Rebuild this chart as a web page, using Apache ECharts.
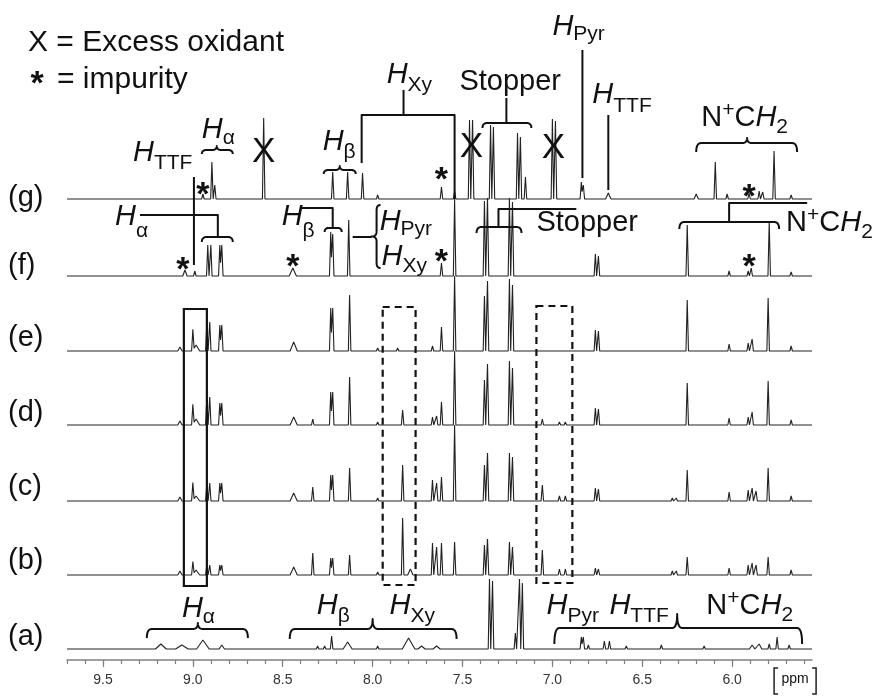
<!DOCTYPE html>
<html><head><meta charset="utf-8">
<script src="https://cdn.jsdelivr.net/npm/echarts@6/dist/echarts.min.js"></script>
<style>html,body{margin:0;padding:0;background:#fff}#c{width:880px;height:696px}</style>
</head><body><div id="c"></div>
<script>
// ---------- data (ppm, intensity[, half-width ppm]) ----------
const tickLabels = [9.5, 9.0, 8.5, 8.0, 7.5, 7.0, 6.5, 6.0];
const traceLabels = ['(a)', '(b)', '(c)', '(d)', '(e)', '(f)', '(g)'];
const peaksA = [[9.178,5,0.03],[9.061,4,0.035],[8.944,9,0.035],[8.839,4,0.015],[8.306,3],[8.267,3],[8.228,13],[8.139,7,0.025],[7.972,3],[7.80,11,0.035],[7.728,3,0.02],[7.644,3,0.02],[7.35,70],[7.333,68],[7.206,16],[7.183,70],[7.167,66],[6.839,12],[6.828,12],[6.80,4],[6.711,8],[6.683,8],[6.589,3],[6.394,4],[6.156,3],[5.889,4,0.015],[5.85,5,0.015],[5.794,5],[5.75,12],[5.683,4]];
const peaksB = [[9.072,4,0.012],[9.0,13],[8.982,5,0.02],[8.922,10],[8.906,10],[8.85,10],[8.839,10],[8.439,8,0.02],[8.333,22],[8.233,17],[8.222,17],[8.128,20],[7.972,3],[7.833,57],[7.79,6,0.015],[7.667,32],[7.644,28],[7.617,32],[7.544,33],[7.378,30],[7.361,36],[7.239,33],[7.222,28],[7.056,25],[6.961,6],[6.928,6],[6.761,7],[6.744,6],[6.333,4],[6.311,4],[6.25,18],[6.017,7],[5.911,10],[5.889,12],[5.867,10],[5.80,18],[5.672,5]];
const peaksC = [[9.072,4,0.012],[9.0,18],[8.982,5,0.02],[8.922,18],[8.906,18],[8.85,18],[8.839,18],[8.439,8,0.02],[8.333,14],[8.233,26],[8.222,26],[8.128,33],[7.972,3],[7.833,36],[7.667,21],[7.644,18],[7.617,24],[7.544,76],[7.378,36],[7.361,48],[7.239,48],[7.222,44],[7.056,16],[6.961,5],[6.928,5],[6.761,13],[6.744,12],[6.333,3],[6.311,3],[6.25,31],[6.017,9],[5.911,11],[5.889,13],[5.867,10],[5.80,33],[5.672,5]];
const peaksD = [[9.072,4,0.012],[9.0,20],[8.982,6,0.02],[8.922,28],[8.906,28],[8.85,22],[8.839,22],[8.439,8,0.02],[8.333,6],[8.233,33],[8.222,33],[8.128,48],[7.972,3],[7.833,15],[7.667,8],[7.644,9],[7.617,23],[7.544,74],[7.378,45],[7.361,61],[7.239,64],[7.222,57],[7.056,6],[6.961,3],[6.928,3],[6.761,17],[6.744,16],[6.25,42],[6.017,7],[5.911,8],[5.889,13],[5.80,44],[5.672,5]];
const peaksE = [[9.072,4,0.012],[9.0,21],[8.982,6,0.02],[8.922,29],[8.906,29],[8.85,26],[8.839,26],[8.439,9,0.02],[8.233,43],[8.222,43],[8.128,56],[7.972,3],[7.861,3],[7.667,5],[7.617,24],[7.544,75],[7.378,55],[7.361,70],[7.239,72],[7.222,66],[6.761,21],[6.744,20],[6.25,51],[6.017,7],[5.911,8],[5.889,12],[5.80,53],[5.672,5]];
const peaksF = [[9.044,6,0.012],[8.989,5],[8.917,31],[8.9,31],[8.85,31],[8.839,31],[8.444,8,0.02],[8.233,44],[8.222,42],[8.133,56],[7.617,13],[7.544,77],[7.378,75],[7.361,78],[7.239,78],[7.222,74],[6.761,22],[6.744,20],[6.25,51],[6.017,5],[5.911,5],[5.894,8],[5.794,54],[5.672,4]];
const peaksG = [[8.944,5],[8.894,37],[8.878,14],[8.606,81],[8.222,27],[8.139,27],[8.056,26],[7.972,4],[7.617,12],[7.544,8],[7.461,79],[7.444,79],[7.344,74],[7.328,72],[7.194,66],[7.178,62],[7.15,22],[7.0,80],[6.983,78],[6.839,17],[6.828,14],[6.689,6,0.015],[6.20,5,0.012],[6.094,37],[6.028,5],[5.906,6],[5.85,8],[5.83,7],[5.767,48],[5.672,4]];
const traces = [peaksA, peaksB, peaksC, peaksD, peaksE, peaksF, peaksG];

// ---------- layout ----------
const XMIN = 5.556, XMAX = 9.70, DEF_W = 0.007;
const AXIS_Y = 660;
const baselinePx = [649, 575, 501, 425, 351, 276, 199];
const labelCenterPx = [639, 563, 489, 415, 340, 268, 200];
const FAM = '"Liberation Sans", Arial, Helvetica, sans-serif';
const INK = '#111';
const MAIN = 29, SUB = 21;

function buildLine(peaks, off) {
  const xs = [XMAX, XMIN];
  peaks.forEach(([p, h, w = DEF_W]) => xs.push(p + w, p, p - w));
  const uniq = [...new Set(xs)].sort((a, b) => b - a);
  return uniq.map(x => [x, off + peaks.reduce((s, [p, h, w = DEF_W]) => s + Math.max(0, h * (1 - Math.abs(x - p) / w)), 0)]);
}
const minorTicks = [];
for (let i = 56; i <= 97; i++) minorTicks.push(i / 10);

const option = {
  animation: false,
  backgroundColor: '#fff',
  grid: { left: 67, right: 68, top: 0, bottom: 36 },
  xAxis: [
    { type: 'value', inverse: true, min: XMIN, max: XMAX, position: 'bottom',
      axisLine: { show: true, onZero: false, lineStyle: { color: '#808080', width: 1.5 } },
      axisTick: { show: true, customValues: minorTicks, length: 4, lineStyle: { color: '#808080', width: 1.2 } },
      axisLabel: { show: true, customValues: tickLabels, formatter: v => Number(v).toFixed(1), fontSize: 14, color: '#333', fontFamily: 'Liberation Sans, Arial, sans-serif', margin: 13, lineHeight: 14 },
      splitLine: { show: false } },
    { type: 'value', inverse: true, min: XMIN, max: XMAX, position: 'bottom', gridIndex: 0,
      axisLine: { show: false, onZero: false },
      axisTick: { show: true, customValues: tickLabels, length: 7, lineStyle: { color: '#808080', width: 1.2 } },
      axisLabel: { show: false }, splitLine: { show: false } }
  ],
  yAxis: { type: 'value', min: 0, max: AXIS_Y, show: false },
  series: traces.map((pk, i) => ({
    type: 'line', name: traceLabels[i], xAxisIndex: 0, yAxisIndex: 0,
    data: buildLine(pk, AXIS_Y - baselinePx[i]),
    symbol: 'none', showSymbol: false, silent: true, clip: false,
    lineStyle: { color: '#222', width: 1.1 }
  }))
};

const chart = echarts.init(document.getElementById('c'));
chart.setOption(option);

// ---------- annotations ----------
const G = [];
const P = v => chart.convertToPixel({ xAxisIndex: 0 }, v);
const mctx = document.createElement('canvas').getContext('2d');
function font(size, italic, bold) { return (italic ? 'italic ' : '') + (bold ? 'bold ' : '') + size + 'px ' + FAM; }
function tw(t, f) { mctx.font = f; return mctx.measureText(t).width; }
function textEl(x, y, t, f, align) {
  G.push({ type: 'text', silent: true, x: x, y: y, z: 10,
    style: { text: t, font: f, fill: INK, align: align || 'left', verticalAlign: 'middle', textAlign: align || 'left', textVerticalAlign: 'middle' } });
}
function textPx(x, base, t, size, opts) {
  opts = opts || {};
  textEl(x, base - 0.3465 * size, t, font(size, opts.italic, opts.bold), opts.align);
}
function label(ppm, base, parts, subDy) {
  if (subDy === undefined) subDy = 6;
  let cx = P(ppm);
  for (const [t, k] of parts) {
    let size = MAIN, it = false, dy = 0;
    if (k === 'i') it = true;
    else if (k === 'sub') { size = SUB; dy = subDy; }
    else if (k === 'sup') { size = SUB; dy = -11; }
    const f = font(size, it);
    textEl(cx, base + dy - 0.3465 * size, t, f);
    cx += tw(t, f);
  }
}
function star(ppm, yc) { const s = 34; textEl(P(ppm), yc + 0.2285 * s, '*', font(s, false, true), 'center'); }
function starPx(x, yc) { const s = 34; textEl(x, yc + 0.2285 * s, '*', font(s, false, true), 'center'); }
function xMark(ppm, yc) { textEl(P(ppm), yc, 'X', font(35), 'center'); }
function polyPx(pts, lw) {
  G.push({ type: 'polyline', silent: true, z: 10, shape: { points: pts },
    style: { stroke: INK, lineWidth: lw || 2, fill: null, lineJoin: 'round' } });
}
function seg(pts, lw) { polyPx(pts.map(([p, y]) => [P(p), y]), lw); }
// quadratic bezier sampling -> polyline points
function quad(out, a, c, b, n) {
  n = n || 8;
  for (let i = 1; i <= n; i++) {
    const t = i / n, u = 1 - t;
    out.push([u * u * a[0] + 2 * u * t * c[0] + t * t * b[0], u * u * a[1] + 2 * u * t * c[1] + t * t * b[1]]);
  }
}
function brace(p1, p2, y, dEnd, pc, dC, lw) {
  const x1 = P(p1), x2 = P(p2), xc = P(pc);
  const r = Math.min(5, (xc - x1) / 2, (x2 - xc) / 2);
  const pts = [[x1, y + dEnd]];
  quad(pts, [x1, y + dEnd], [x1, y], [x1 + r, y]);
  pts.push([xc - r, y]);
  if (dC > 0) { quad(pts, [xc - r, y], [xc, y], [xc, y - dC]); quad(pts, [xc, y - dC], [xc, y], [xc + r, y]); }
  pts.push([x2 - r, y]);
  quad(pts, [x2 - r, y], [x2, y], [x2, y + dEnd]);
  polyPx(pts, lw);
}
function vbrace(p, y1, y2, tip) {
  const x = P(p), yc = (y1 + y2) / 2, r = 5;
  const pts = [[x + 4, y1]];
  quad(pts, [x + 4, y1], [x, y1], [x, y1 + r]);
  pts.push([x, yc - r]);
  quad(pts, [x, yc - r], [x, yc], [x - tip, yc]);
  quad(pts, [x - tip, yc], [x, yc], [x, yc + r]);
  pts.push([x, y2 - r]);
  quad(pts, [x, y2 - r], [x, y2], [x + 4, y2]);
  polyPx(pts, 2);
}
function box(p1, p2, y1, y2, dashed) {
  const x1 = P(p1), x2 = P(p2);
  G.push({ type: 'rect', silent: true, z: 10, shape: { x: x1, y: y1, width: x2 - x1, height: y2 - y1 },
    style: { stroke: INK, lineWidth: 2.2, fill: null, lineDash: dashed ? [7, 5] : null } });
}
const NCH2 = [['N', 'r'], ['+', 'sup'], ['C', 'r'], ['H', 'i'], ['2', 'sub']];
const H = s => [['H', 'i'], [s, 'sub']];

// legend
textPx(28, 53, 'X = Excess oxidant', 30);
starPx(37, 77);
textPx(57, 90, '= impurity', 30);

// trace labels
traceLabels.forEach((t, i) => textEl(8, labelCenterPx[i] - 2.5, t, font(MAIN)));

// (g)
label(9.333, 163, H('TTF'), 7);
seg([[8.994, 177], [8.994, 265]]);
label(8.95, 140, H('α'), 5);
brace(8.95, 8.778, 150, 4, 8.867, 4);
xMark(8.606, 152);
star(8.944, 188);
label(8.278, 152, H('β'), 7);
brace(8.272, 8.094, 170, 4, 8.183, 4);
label(7.922, 85, H('Xy'), 7);
seg([[7.828, 90], [7.828, 115]]);
seg([[8.061, 163], [8.061, 115], [7.544, 115], [7.544, 199]]);
star(7.617, 173);
xMark(7.45, 147); xMark(6.994, 148);
label(7.517, 92, [['Stopper', 'r']]);
seg([[7.256, 98], [7.256, 123]]);
brace(7.389, 7.117, 123, 5, 7.256, 0);
label(7.0, 37, H('Pyr'), 4);
seg([[6.833, 50], [6.833, 178]]);
label(6.778, 105, H('TTF'), 8);
seg([[6.689, 115], [6.689, 190]]);
label(6.172, 128, NCH2);
brace(6.2, 5.639, 143, 9, 5.917, 5);
star(5.906, 190);

// (f)
label(9.433, 227, H('α'), 11);
seg([[9.294, 215], [8.861, 215], [8.861, 237]]);
brace(8.95, 8.778, 237, 5, 8.861, 0);
star(9.056, 263); star(8.444, 260); star(7.617, 255); star(5.906, 260);
label(8.506, 227, H('β'), 11);
seg([[8.394, 208], [8.222, 208], [8.222, 228]]);
brace(8.267, 8.172, 228, 4, 8.222, 0);
seg([[8.111, 237], [8.006, 237]]);
vbrace(7.978, 205, 268, 5);
label(7.961, 232, H('Pyr'), 4);
label(7.95, 267, H('Xy'), 6);
brace(7.422, 7.172, 227, 6, 7.30, 0);
seg([[7.30, 227], [7.30, 209], [6.867, 209]]);
label(7.089, 233, [['Stopper', 'r']]);
brace(6.294, 5.739, 222, 7, 6.017, 0);
seg([[6.017, 222], [6.017, 203], [5.583, 203]]);
label(5.70, 233, NCH2);

// boxes
box(9.05, 8.922, 309, 586, false);
box(7.944, 7.761, 307, 585, true);
box(7.089, 6.889, 306, 583, true);

// (a)
brace(9.256, 8.694, 629, 9, 8.972, 6);
label(9.061, 619, H('α'), 5);
brace(8.461, 7.533, 629, 10, 8.0, 10);
label(8.311, 616, H('β'), 7);
label(7.906, 616, H('Xy'), 7);
brace(6.989, 5.611, 628, 16, 6.306, 14);
label(7.033, 616, H('Pyr'), 7);
label(6.683, 616, H('TTF'), 7);
label(6.144, 616, NCH2);

// axis unit
const ux = P(5.65);
textEl(ux, 684 - 0.3465 * 14, 'ppm', font(14), 'center');
G.push({ type: 'polyline', silent: true, shape: { points: [[ux - 17, 668], [ux - 21, 668], [ux - 21, 694], [ux - 17, 694]] }, style: { stroke: '#222', lineWidth: 1.5, fill: null } });
G.push({ type: 'polyline', silent: true, shape: { points: [[ux + 17, 668], [ux + 21, 668], [ux + 21, 694], [ux + 17, 694]] }, style: { stroke: '#222', lineWidth: 1.5, fill: null } });

chart.setOption({ graphic: { elements: G } });
</script>
</body></html>
